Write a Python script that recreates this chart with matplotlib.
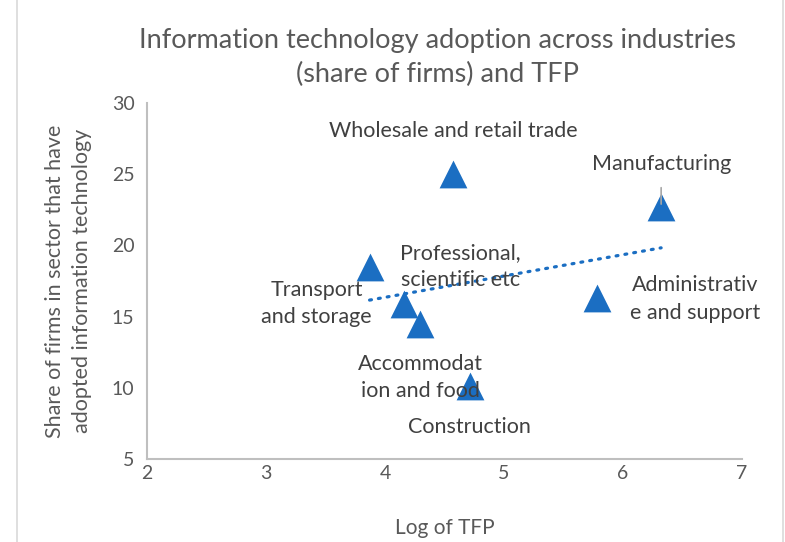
import matplotlib.pyplot as plt
import numpy as np

plt.rcParams['font.family'] = ['Lato', 'DejaVu Sans']

sectors = ['Wholesale and retail trade', 'Transport\nand storage', 'Professional,\nscientific etc',
           'Accommodat\nion and food', 'Construction', 'Manufacturing', 'Administrativ\ne and support']
log_tfp = [4.57, 3.87, 4.16, 4.29, 4.71, 6.32, 5.78]
it_share = [25.0, 18.5, 15.9, 14.5, 10.1, 22.7, 16.3]
# label offsets in pixels from each point
label_offsets = [(0, 43), (-53, -37), (56, 37), (1, -54), (0, -41), (0, 43), (98, -1)]

blue = '#1b6ec2'
grey = '#595959'

fig = plt.figure(figsize=(7.85, 5.42), dpi=100)
ax = fig.add_axes([0.1873, 0.1531, 0.758, 0.657])

ax.scatter(log_tfp, it_share, marker='^', s=400, color=blue, zorder=3, linewidths=0)

# linear trendline
slope, intercept = np.polyfit(log_tfp, it_share, 1)
xs = np.array([min(log_tfp), max(log_tfp)])
ax.plot(xs, slope * xs + intercept, color=blue, lw=2.3, linestyle=(0, (0.6, 2.2)),
        dash_capstyle='round', zorder=2)

for name, x, y, off in zip(sectors, log_tfp, it_share, label_offsets):
    ax.annotate(name, (x, y), xytext=off, textcoords='offset pixels', ha='center', va='center',
                fontsize=15.5, color='#404040', linespacing=1.45, zorder=4)

# leader line for Manufacturing
ax.annotate('', (log_tfp[5], it_share[5]), xytext=(0, 22), textcoords='offset pixels',
            arrowprops=dict(arrowstyle='-', color='#a6a6a6', lw=1.2), zorder=4)

ax.set_xlim(2, 7)
ax.set_ylim(5, 30)
ax.set_xticks([2, 3, 4, 5, 6, 7])
ax.set_yticks([5, 10, 15, 20, 25, 30])
ax.tick_params(length=0, labelsize=14, labelcolor=grey)
ax.tick_params(axis='y', pad=9)
ax.tick_params(axis='x', pad=4)

for s in ['top', 'right']:
    ax.spines[s].set_visible(False)
for s in ['left', 'bottom']:
    ax.spines[s].set_color('#bfbfbf')
    ax.spines[s].set_linewidth(1.5)

ax.set_xlabel('Log of TFP', fontsize=15, color=grey, labelpad=26)
ax.set_ylabel('Share of firms in sector that have\nadopted information technology',
              fontsize=15.5, color=grey, labelpad=14, linespacing=1.45)

fig.suptitle('Information technology adoption across industries\n(share of firms) and TFP',
             x=0.557, y=0.949, fontsize=19.5, color=grey, linespacing=1.45)

fig.patches.append(plt.Rectangle((0.022, -0.01), 0.975, 1.02, transform=fig.transFigure,
                                 fill=False, edgecolor='#d9d9d9', lw=1.2))

fig.savefig('out.png', dpi=100)
